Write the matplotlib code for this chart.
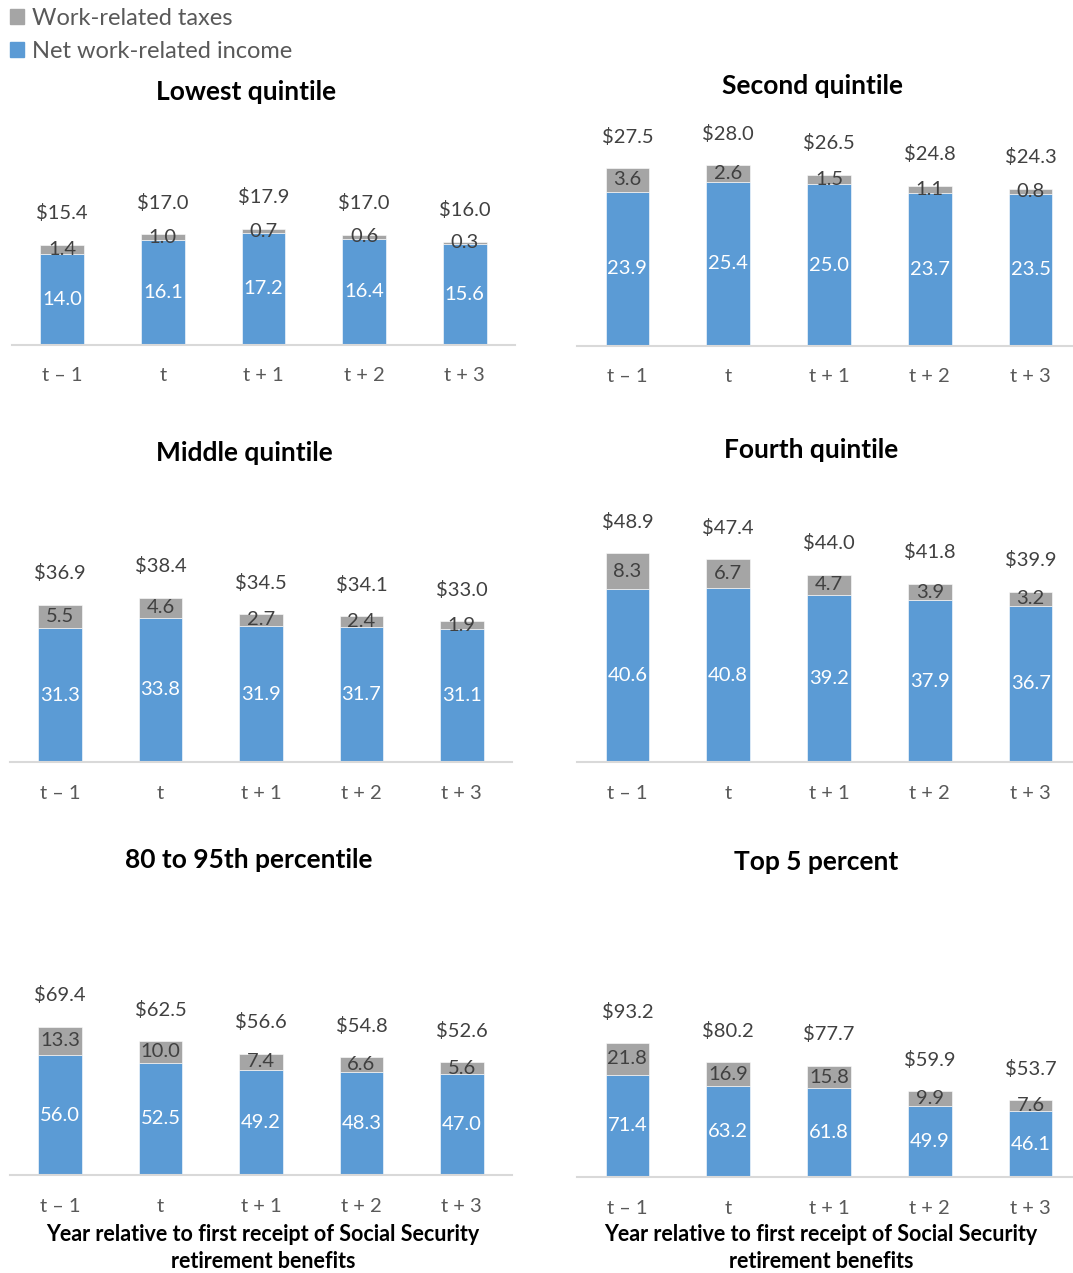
import numpy as np
import matplotlib.pyplot as plt
import matplotlib.patches as mpatches

plt.rcParams['font.family'] = ['Lato', 'DejaVu Sans']

periods = ["t \u2013 1", "t", "t + 1", "t + 2", "t + 3"]

titles = ["Lowest quintile", "Second quintile", "Middle quintile",
          "Fourth quintile", "80 to 95th percentile", "Top 5 percent"]

net_lowest = [14.0, 16.1, 17.2, 16.4, 15.6]
tax_lowest = [1.4, 1.0, 0.7, 0.6, 0.3]
total_lowest = [15.4, 17.0, 17.9, 17.0, 16.0]

net_second = [23.9, 25.4, 25.0, 23.7, 23.5]
tax_second = [3.6, 2.6, 1.5, 1.1, 0.8]
total_second = [27.5, 28.0, 26.5, 24.8, 24.3]

net_middle = [31.3, 33.8, 31.9, 31.7, 31.1]
tax_middle = [5.5, 4.6, 2.7, 2.4, 1.9]
total_middle = [36.9, 38.4, 34.5, 34.1, 33.0]

net_fourth = [40.6, 40.8, 39.2, 37.9, 36.7]
tax_fourth = [8.3, 6.7, 4.7, 3.9, 3.2]
total_fourth = [48.9, 47.4, 44.0, 41.8, 39.9]

net_80_95 = [56.0, 52.5, 49.2, 48.3, 47.0]
tax_80_95 = [13.3, 10.0, 7.4, 6.6, 5.6]
total_80_95 = [69.4, 62.5, 56.6, 54.8, 52.6]

net_top5 = [71.4, 63.2, 61.8, 49.9, 46.1]
tax_top5 = [21.8, 16.9, 15.8, 9.9, 7.6]
total_top5 = [93.2, 80.2, 77.7, 59.9, 53.7]

xlabel_text = "Year relative to first receipt of Social Security\nretirement benefits"

W, H = 1073, 1273
blue = '#5B9BD5'
gray = '#A5A5A5'
dark = '#404040'
tickgray = '#595959'


def panel(fig, left, right, base, scale, title, tx, ty, net, tax, total, xlabel=None, xlx=None):
    h = 230
    ax = fig.add_axes([left / W, 1 - base / H, (right - left) / W, h / H])
    x = np.arange(len(periods))
    width = 0.434
    ax.bar(x, net, width, color=blue, edgecolor='white', linewidth=0.4)
    ax.bar(x, tax, width, bottom=net, color=gray, edgecolor='white', linewidth=0.4)
    ax.set_xlim(-0.5, 4.5)
    ax.set_ylim(0, h / scale)
    for s in ['top', 'left', 'right']:
        ax.spines[s].set_visible(False)
    ax.spines['bottom'].set_color('#D9D9D9')
    ax.spines['bottom'].set_linewidth(1.5)
    ax.set_yticks([])
    ax.set_xticks(x)
    ax.set_xticklabels(periods, fontsize=14.5, color=tickgray)
    ax.tick_params(axis='x', length=0, pad=16)
    for i in range(len(x)):
        ax.text(x[i], net[i] / 2, '{:.1f}'.format(net[i]), ha='center', va='center',
                color='white', fontsize=14.5)
        ax.text(x[i], net[i] + tax[i] / 2, '{:.1f}'.format(tax[i]), ha='center', va='center',
                color=dark, fontsize=14.5)
        ax.annotate('${:.1f}'.format(total[i]), xy=(x[i], net[i] + tax[i]), xytext=(0, 22.7),
                    textcoords='offset points', ha='center', va='center', color=dark, fontsize=14.5)
    fig.text(tx / W, 1 - ty / H, title, ha='center', va='center', fontsize=19, weight='bold')
    if xlabel:
        fig.text(xlx / W, 1 - 1248 / H, xlabel, ha='center', va='center', fontsize=15.5,
                 weight='bold', linespacing=1.4)
    return ax


fig = plt.figure(figsize=(W / 100, H / 100), dpi=100)

panel(fig, 12, 515, 344.5, 6.46, titles[0], 246, 92, net_lowest, tax_lowest, total_lowest)
panel(fig, 577, 1081, 345.7, 6.45, titles[1], 812, 86, net_second, tax_second, total_second)
panel(fig, 10, 512, 762.3, 4.28, titles[2], 244, 453, net_middle, tax_middle, total_middle)
panel(fig, 577, 1081, 762.3, 4.27, titles[3], 811, 450, net_fourth, tax_fourth, total_fourth)
panel(fig, 10, 512, 1175.3, 2.147, titles[4], 249, 860, net_80_95, tax_80_95, total_80_95,
      xlabel_text, 263)
panel(fig, 577, 1081, 1177.3, 1.438, titles[5], 816, 862, net_top5, tax_top5, total_top5,
      xlabel_text, 821)

taxes = mpatches.Patch(color=gray, label='Work-related taxes')
netinc = mpatches.Patch(color=blue, label='Net work-related income')
fig.legend(handles=[taxes, netinc], loc='upper left', bbox_to_anchor=(10 / W, 1 - 8 / H),
           frameon=False, fontsize=17, handlelength=0.6, handleheight=0.6,
           handletextpad=0.35, labelspacing=0.5, borderpad=0, borderaxespad=0,
           labelcolor=tickgray)

fig.savefig('out.png', dpi=100)
